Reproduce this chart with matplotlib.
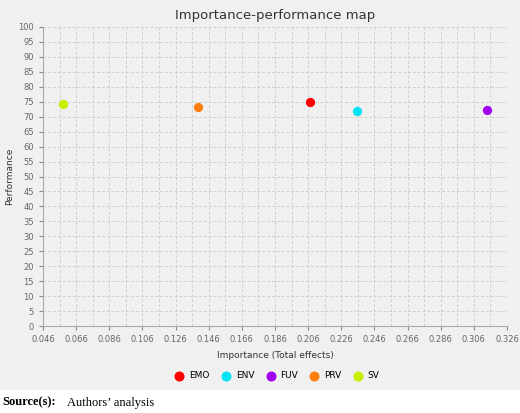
import numpy as np
import matplotlib.pyplot as plt
import matplotlib.patches as mpatches

# data
labels      = ['EMO', 'ENV', 'FUV', 'PRV', 'SV']
importance  = [0.207, 0.2355, 0.314, 0.1395, 0.058]
performance = [74.9, 71.9, 72.1, 73.2, 74.2]
colors      = ['#ff0000', '#00e5f5', '#a000f0', '#ff7f0e', '#c4f000']

xticks = np.arange(0.046, 0.3261, 0.02)
yticks = np.arange(0, 101, 5)

fig = plt.figure(figsize=(5.2, 4.13), dpi=100)
fig.patch.set_facecolor('white')
# grey chart panel, white strip at the bottom for the source line
fig.add_artist(mpatches.Rectangle((0, 0.055), 1, 0.945, transform=fig.transFigure,
                                  facecolor='#f0f0f0', edgecolor='none', zorder=0))

ax = fig.add_axes([43/520, 1 - 326/413, 464/520, 299/413])
ax.set_facecolor('#f0f0f0')
for lab, x, y, c in zip(labels, importance, performance, colors):
    ax.scatter(x, y, s=32, color=c, label=lab, zorder=3)

ax.set_xlim(0.046, 0.326)
ax.set_ylim(0, 100)
ax.set_xticks(xticks)
ax.set_xticklabels(['%.3f' % t for t in xticks])
ax.set_yticks(yticks)
ax.set_xticks(np.arange(0.056, 0.326, 0.02), minor=True)
ax.grid(True, which='both', color='#d0d0d0', linestyle=(0, (3, 2)), linewidth=0.7)
ax.tick_params(axis='both', labelsize=6, colors='#888888', length=3, labelcolor='#666666')
ax.tick_params(which='minor', length=0)
for s in ['top', 'right']:
    ax.spines[s].set_visible(False)
for s in ['left', 'bottom']:
    ax.spines[s].set_color('#aaaaaa')

ax.set_title('Importance-performance map', fontsize=9.5, color='#333333', pad=6)
ax.set_xlabel('Importance (Total effects)', fontsize=6.5, color='#333333', labelpad=5)
ax.set_ylabel('Performance', fontsize=6.5, color='#333333', labelpad=3)

ax.legend(loc='upper center', bbox_to_anchor=(0.5, -0.125), ncol=5, frameon=False,
          fontsize=6.5, handletextpad=0.1, columnspacing=0.8, markerscale=1.1)

t = fig.text(0.005, 0.025, 'Source(s):', fontsize=9, family='Liberation Serif',
             weight='bold', va='center')
fig.text(0.128, 0.025, 'Authors\u2019 analysis', fontsize=9, family='Liberation Serif',
         va='center')

plt.savefig('out.png', dpi=100)
plt.close()
